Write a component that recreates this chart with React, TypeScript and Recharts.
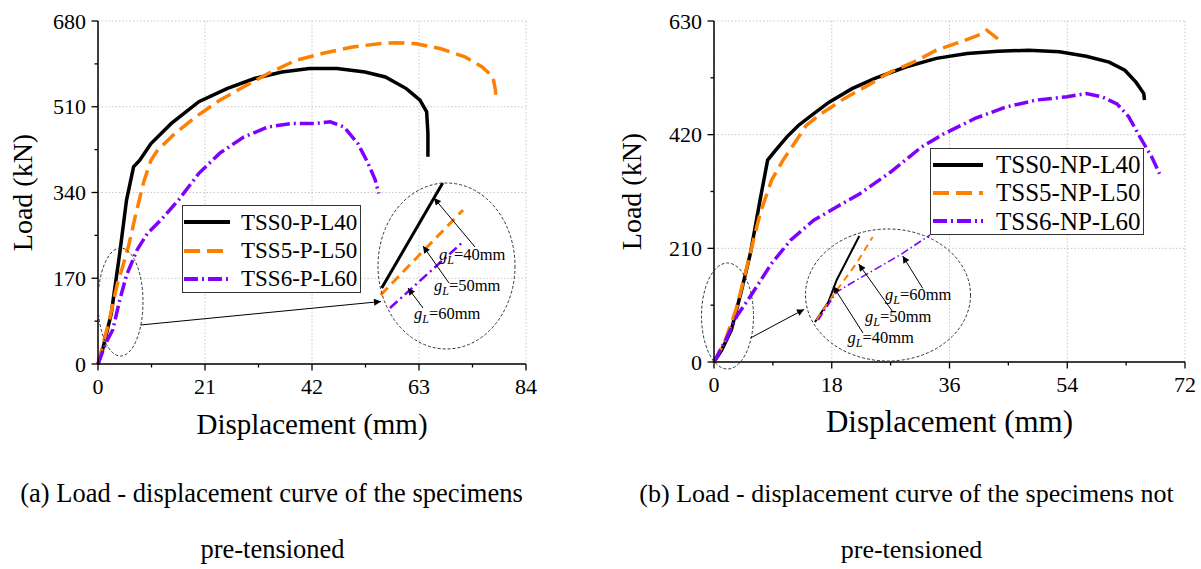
import React from "react";
import { LineChart, Line, XAxis, YAxis, CartesianGrid, Legend } from "recharts";

const FONT = '"Liberation Serif", "Times New Roman", serif';
const BLACK = "#000000";
const ORANGE = "#ff8000";
const PURPLE = "#7f00ff";

type Pt = [number, number];

// (a) pre-tensioned specimens, [displacement (mm), load (kN)]
const tss0P: Pt[] = [[0, 0], [0.9, 28], [1.7, 62], [2.6, 100], [4.27, 220], [5.6, 325], [6.98, 391], [8.2, 404], [10.4, 437], [14.4, 477], [19.8, 520], [25.3, 546], [30.7, 566], [36.1, 579], [41.5, 586], [46.9, 586], [52.4, 579], [56.4, 569], [60.5, 546], [63.2, 523], [64.5, 500], [64.75, 457], [64.75, 411]];
const tss5P: Pt[] = [[0, 0], [0.88, 35], [2.24, 88], [3.93, 165], [4.64, 186], [6.1, 238], [7.3, 292], [9.0, 362], [10.4, 404], [11.7, 424], [15.1, 457], [19.2, 490], [23.9, 523], [28, 546], [33.4, 576], [38.8, 602], [44.2, 616], [49.7, 628], [55.1, 635], [58.4, 637], [62.5, 635], [67.3, 625], [72, 609], [75.4, 589], [77.5, 569], [78, 543], [78.1, 523]];
const tss6P: Pt[] = [[0, 0], [1.56, 42], [2.9, 68], [4.27, 127], [5.6, 176], [7.65, 226], [9.7, 259], [12.4, 286], [15.8, 325], [19.8, 378], [23.9, 418], [28.6, 450], [33.4, 470], [38.1, 477], [42.9, 477], [45.6, 480], [48.3, 470], [51, 437], [53, 398], [54.4, 365], [55.1, 338]];

// (b) specimens not pre-tensioned
const tss0NP: Pt[] = [[0, 0], [1.17, 22], [2.64, 59], [4.1, 127], [5.57, 201], [7.04, 299], [8.2, 373], [9.4, 391], [11.15, 416], [12.9, 437], [15.25, 459], [17.6, 480], [21.1, 505], [24.6, 524], [29.3, 545], [34, 561], [38.7, 570], [43.4, 574], [48.1, 576], [52.8, 573], [56.9, 565], [60.4, 554], [62.8, 539], [64.5, 517], [65.7, 496], [65.8, 484]];
const tss5NP: Pt[] = [[0, 0], [1.76, 41], [3.5, 102], [5.28, 188], [7.04, 274], [8.8, 336], [10.56, 373], [12.3, 404], [14.1, 437], [16.4, 459], [19.95, 487], [23.5, 511], [27, 536], [30.5, 554], [34, 576], [37.6, 591], [41.1, 607], [41.7, 613], [43.4, 597]];
const tss6NP: Pt[] = [[0, 0], [1.76, 40], [3.5, 85], [5.87, 127], [8.8, 182], [11.7, 225], [15.25, 262], [18.8, 287], [22.3, 311], [27, 351], [31.7, 397], [35.2, 422], [39.9, 450], [44.6, 471], [49.3, 484], [54, 490], [56.9, 496], [59.3, 490], [61.6, 477], [63.4, 453], [65.1, 416], [66.9, 379], [68.1, 348]];

// magnified early parts shown inside the big dashed ellipses
const insetA40: Pt[] = [[1.17, 67], [7.27, 172]];
const insetA50: Pt[] = [[1.07, 60], [9.3, 145]];
const insetA60: Pt[] = [[2.0, 47], [9.17, 112]];
const insetB40: Pt[] = [[1.5, 53], [2.83, 73], [3.67, 95], [5.93, 139]];
const insetB50: Pt[] = [[1.67, 55], [3.33, 80], [5.67, 112], [7.27, 138]];
const insetB60: Pt[] = [[1.83, 55], [3.67, 83], [6, 97], [10, 120], [13, 140]];

// ticks
const xTicksA = [0, 10.5, 21, 31.5, 42, 52.5, 63, 73.5, 84];
const xMajorA = [0, 21, 42, 63, 84];
const yTicksA = [0, 85, 170, 255, 340, 425, 510, 595, 680];
const yMajorA = [0, 170, 340, 510, 680];
const xTicksB = [0, 9, 18, 27, 36, 45, 54, 63, 72];
const xMajorB = [0, 18, 36, 54, 72];
const yTicksB = [0, 105, 210, 315, 420, 525, 630];
const yMajorB = [0, 210, 420, 630];

const rows = (pts: Pt[]) => pts.map(([d, p]) => ({ d, p }));

const makeXTick = (major: number[]) => (props: any) => {
  const { x, y, payload } = props;
  const isMajor = major.includes(payload.value);
  return (
    <g>
      <line x1={x} y1={y} x2={x} y2={y + (isMajor ? 6.5 : 3.5)} stroke="#000" strokeWidth={1.3} />
      {isMajor && (
        <text x={x} y={y + 30} textAnchor="middle" fontFamily={FONT} fontSize={22} fill="#000">
          {payload.value}
        </text>
      )}
    </g>
  );
};

const makeYTick = (major: number[]) => (props: any) => {
  const { x, y, payload } = props;
  const isMajor = major.includes(payload.value);
  return (
    <g>
      <line x1={x} y1={y} x2={x - (isMajor ? 6.5 : 3.5)} y2={y} stroke="#000" strokeWidth={1.3} />
      {isMajor && (
        <text x={x - 12} y={y + 7.5} textAnchor="end" fontFamily={FONT} fontSize={22} fill="#000">
          {payload.value}
        </text>
      )}
    </g>
  );
};

const makeLegend = (fontSize: number, rowH: number, padTop: number, sampleLeft: number, sampleW: number, gap: number) =>
  ({ payload }: any) => (
    <div
      style={{
        boxSizing: "border-box",
        width: "100%",
        height: "100%",
        border: "1.5px solid #333",
        background: "#fff",
        paddingTop: padTop,
        fontFamily: FONT,
        fontSize,
        color: "#000",
      }}
    >
      {(payload || []).map((e: any) => (
        <div key={e.value} style={{ display: "flex", alignItems: "center", height: rowH }}>
          <svg width={sampleW} height={8} style={{ marginLeft: sampleLeft, flex: "none" }}>
            <line x1={0} y1={4} x2={sampleW} y2={4} stroke={e.color} strokeWidth={4} strokeDasharray={e.payload?.strokeDasharray} />
          </svg>
          <span style={{ marginLeft: gap, lineHeight: 1, whiteSpace: "nowrap" }}>{e.value}</span>
        </div>
      ))}
    </div>
  );

type Series = { name: string; pts: Pt[]; color: string; dash?: string };

function Panel(props: {
  left: number;
  width: number;
  yAxisW: number;
  rightM: number;
  xAxisH: number;
  xMax: number;
  yMax: number;
  xTicks: number[];
  xMajor: number[];
  yTicks: number[];
  yMajor: number[];
  series: Series[];
  legend: { left: number; top: number; width: number; height: number };
  legendContent: any;
  xTitleSize: number;
  xTitleOffset: number;
  yTitleSize: number;
  yTitleOffset: number;
}) {
  const p = props;
  return (
    <div style={{ position: "absolute", left: p.left, top: 0 }}>
      <LineChart width={p.width} height={440} margin={{ top: 21, right: p.rightM, bottom: 0, left: 0 }}>
        <CartesianGrid
          stroke="#c8c8c8"
          strokeDasharray="1.5 2"
          verticalValues={p.xMajor}
          horizontalValues={p.yMajor}
        />
        <XAxis
          type="number"
          dataKey="d"
          domain={[0, p.xMax]}
          ticks={p.xTicks}
          interval={0}
          height={p.xAxisH}
          tickSize={0}
          tickMargin={0}
          tickLine={false}
          tick={makeXTick(p.xMajor)}
          axisLine={{ stroke: "#000", strokeWidth: 1.5 }}
          label={{
            value: "Displacement (mm)",
            position: "insideBottom",
            offset: p.xTitleOffset,
            fontFamily: FONT,
            fontSize: p.xTitleSize,
            fill: "#000",
          }}
        />
        <YAxis
          type="number"
          dataKey="p"
          domain={[0, p.yMax]}
          ticks={p.yTicks}
          interval={0}
          width={p.yAxisW}
          tickSize={0}
          tickMargin={0}
          tickLine={false}
          tick={makeYTick(p.yMajor)}
          axisLine={{ stroke: "#000", strokeWidth: 1.5 }}
          label={{
            value: "Load (kN)",
            angle: -90,
            position: "insideLeft",
            offset: p.yTitleOffset,
            style: { textAnchor: "middle" },
            fontFamily: FONT,
            fontSize: p.yTitleSize,
            fill: "#000",
          }}
        />
        <XAxis
          xAxisId="top"
          orientation="top"
          type="number"
          domain={[0, p.xMax]}
          height={0}
          tick={false}
          tickLine={false}
          axisLine={{ stroke: "#333", strokeWidth: 1.3 }}
        />
        <YAxis
          yAxisId="right"
          orientation="right"
          type="number"
          domain={[0, p.yMax]}
          width={0}
          tick={false}
          tickLine={false}
          axisLine={{ stroke: "#000", strokeWidth: 1.3 }}
        />
        <Legend
          layout="vertical"
          align="center"
          verticalAlign="middle"
          wrapperStyle={{ left: p.legend.left, top: p.legend.top, width: p.legend.width, height: p.legend.height }}
          content={p.legendContent}
        />
        {p.series.map((s) => (
          <Line
            key={s.name}
            name={s.name}
            data={rows(s.pts)}
            dataKey="p"
            type="linear"
            stroke={s.color}
            strokeWidth={3.5}
            strokeDasharray={s.dash}
            dot={false}
            activeDot={false}
            isAnimationActive={false}
          />
        ))}
      </LineChart>
    </div>
  );
}

function Inset(props: {
  left: number;
  top: number;
  width: number;
  height: number;
  xMax: number;
  yMax: number;
  series: { pts: Pt[]; color: string; dash?: string; w: number }[];
}) {
  const p = props;
  return (
    <div style={{ position: "absolute", left: p.left, top: p.top }}>
      <LineChart width={p.width} height={p.height} margin={{ top: 0, right: 0, bottom: 0, left: 0 }}>
        <XAxis type="number" dataKey="d" domain={[0, p.xMax]} hide />
        <YAxis type="number" dataKey="p" domain={[0, p.yMax]} hide />
        {p.series.map((s, i) => (
          <Line
            key={i}
            data={rows(s.pts)}
            dataKey="p"
            type="linear"
            stroke={s.color}
            strokeWidth={s.w}
            strokeDasharray={s.dash}
            dot={false}
            activeDot={false}
            isAnimationActive={false}
          />
        ))}
      </LineChart>
    </div>
  );
}

function GL({ x, y, v }: { x: number; y: number; v: number }) {
  return (
    <text x={x} y={y} fontFamily={FONT} fontSize={16.5} fill="#000">
      <tspan fontStyle="italic">g</tspan>
      <tspan fontStyle="italic" fontSize={12} dy={4}>L</tspan>
      <tspan dy={-4}>={v}mm</tspan>
    </text>
  );
}

function Arrow({ x1, y1, x2, y2 }: { x1: number; y1: number; x2: number; y2: number }) {
  return <line x1={x1} y1={y1} x2={x2} y2={y2} stroke="#000" strokeWidth={1} markerEnd="url(#ah)" />;
}

export default function App() {
  const seriesA: Series[] = [
    { name: "TSS0-P-L40", pts: tss0P, color: BLACK },
    { name: "TSS5-P-L50", pts: tss5P, color: ORANGE, dash: "16 7" },
    { name: "TSS6-P-L60", pts: tss6P, color: PURPLE, dash: "14 4 2 4" },
  ];
  const seriesB: Series[] = [
    { name: "TSS0-NP-L40", pts: tss0NP, color: BLACK },
    { name: "TSS5-NP-L50", pts: tss5NP, color: ORANGE, dash: "16 7" },
    { name: "TSS6-NP-L60", pts: tss6NP, color: PURPLE, dash: "14 4 2 4" },
  ];

  return (
    <div style={{ position: "relative", width: 1201, height: 569, background: "#fff", overflow: "hidden" }}>
      <style>{`body{margin:0}`}</style>
      <Panel
        left={0}
        width={540}
        yAxisW={98}
        rightM={14}
        xAxisH={76}
        xMax={84}
        yMax={680}
        xTicks={xTicksA}
        xMajor={xMajorA}
        yTicks={yTicksA}
        yMajor={yMajorA}
        series={seriesA}
        legend={{ left: 182, top: 205, width: 179, height: 88 }}
        legendContent={makeLegend(23, 28.4, 2, 1, 46, 11)}
        xTitleSize={29}
        xTitleOffset={6}
        yTitleSize={28}
        yTitleOffset={22}
      />
      <Panel
        left={600}
        width={601}
        yAxisW={114}
        rightM={16}
        xAxisH={78}
        xMax={72}
        yMax={630}
        xTicks={xTicksB}
        xMajor={xMajorB}
        yTicks={yTicksB}
        yMajor={yMajorB}
        series={seriesB}
        legend={{ left: 330, top: 148, width: 214, height: 87 }}
        legendContent={makeLegend(25, 28.3, 1.5, 2, 50, 13)}
        xTitleSize={31}
        xTitleOffset={8}
        yTitleSize={28}
        yTitleOffset={31}
      />
      <Inset
        left={370}
        top={175}
        width={150}
        height={180}
        xMax={15}
        yMax={180}
        series={[
          { pts: insetA40, color: BLACK, w: 3 },
          { pts: insetA50, color: ORANGE, dash: "10 6", w: 3 },
          { pts: insetA60, color: PURPLE, dash: "10 4 2 4", w: 2.5 },
        ]}
      />
      <Inset
        left={800}
        top={225}
        width={180}
        height={150}
        xMax={18}
        yMax={150}
        series={[
          { pts: insetB40, color: BLACK, w: 2 },
          { pts: insetB50, color: ORANGE, dash: "7 5", w: 2 },
          { pts: insetB60, color: PURPLE, dash: "8 3 1.5 3", w: 1.6 },
        ]}
      />
      <svg width={1201} height={569} style={{ position: "absolute", left: 0, top: 0, pointerEvents: "none" }}>
        <defs>
          <marker id="ah" viewBox="0 0 10 10" refX="10" refY="5" markerWidth="9" markerHeight="7" markerUnits="userSpaceOnUse" orient="auto">
            <path d="M0,0 L10,5 L0,10 z" fill="#000" />
          </marker>
        </defs>
        {/* panel (a) annotations */}
        <ellipse cx={120.5} cy={302} rx={22.5} ry={54} fill="none" stroke="#333" strokeWidth={1} strokeDasharray="3 2" />
        <ellipse cx={446.5} cy={266} rx={68.5} ry={83} fill="none" stroke="#333" strokeWidth={1} strokeDasharray="3 2" />
        <Arrow x1={140.5} y1={325} x2={381} y2={301.5} />
        <Arrow x1={475} y1={247} x2={434} y2={198} />
        <Arrow x1={449} y1={283} x2={423} y2={246} />
        <Arrow x1={423} y1={308} x2={408} y2={288} />
        <GL x={439} y={260} v={40} />
        <GL x={434} y={290.5} v={50} />
        <GL x={414} y={319} v={60} />
        {/* panel (b) annotations */}
        <ellipse cx={727.5} cy={316} rx={26} ry={53} fill="none" stroke="#333" strokeWidth={1} strokeDasharray="3 2" />
        <ellipse cx={888} cy={295} rx={82.5} ry={66} fill="none" stroke="#333" strokeWidth={1} strokeDasharray="3 2" />
        <Arrow x1={750.5} y1={338} x2={804} y2={309.4} />
        <Arrow x1={922.7} y1={288.3} x2={902.7} y2={256} />
        <Arrow x1={892.7} y1={311.7} x2={858.7} y2={264} />
        <Arrow x1={863} y1={333} x2={833} y2={286} />
        <GL x={885} y={300} v={60} />
        <GL x={865} y={321.5} v={50} />
        <GL x={847.5} y={343} v={40} />
        {/* captions */}
        <text x={271.5} y={502} textAnchor="middle" fontFamily={FONT} fontSize={26.5} fill="#000">
          (a) Load - displacement curve of the specimens
        </text>
        <text x={272.5} y={558} textAnchor="middle" fontFamily={FONT} fontSize={26.5} fill="#000">
          pre-tensioned
        </text>
        <text x={906.5} y={502} textAnchor="middle" fontFamily={FONT} fontSize={26} fill="#000">
          (b) Load - displacement curve of the specimens not
        </text>
        <text x={911.5} y={558} textAnchor="middle" fontFamily={FONT} fontSize={26} fill="#000">
          pre-tensioned
        </text>
      </svg>
    </div>
  );
}
